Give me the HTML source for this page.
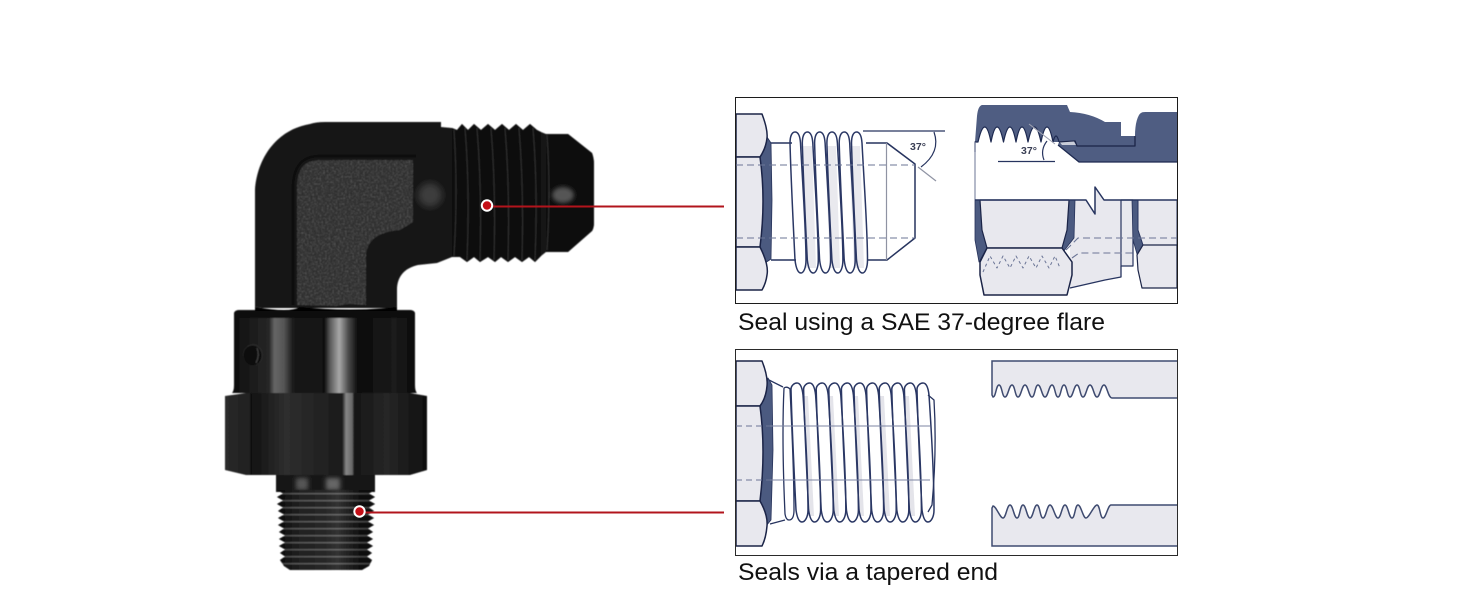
<!DOCTYPE html>
<html>
<head>
<meta charset="utf-8">
<style>
html,body{margin:0;padding:0;background:#fff;width:1464px;height:600px;overflow:hidden}
svg{display:block}
text{font-family:"Liberation Sans",sans-serif}
</style>
</head>
<body>
<svg width="1464" height="600" viewBox="0 0 1464 600" xmlns="http://www.w3.org/2000/svg">
<defs>
<filter id="soft" x="-5%" y="-5%" width="110%" height="110%"><feGaussianBlur stdDeviation="0.5"/></filter>
<filter id="b2" x="-50%" y="-50%" width="200%" height="200%"><feGaussianBlur stdDeviation="2"/></filter>
<filter id="b4" x="-50%" y="-50%" width="200%" height="200%"><feGaussianBlur stdDeviation="4"/></filter>
<filter id="b1" x="-20%" y="-20%" width="140%" height="140%"><feGaussianBlur stdDeviation="0.7"/></filter>
<filter id="grain" x="0" y="0" width="100%" height="100%" color-interpolation-filters="sRGB">
<feTurbulence type="fractalNoise" baseFrequency="0.55" numOctaves="2" seed="4"/>
<feColorMatrix values="0 0 0 0 0.42  0 0 0 0 0.42  0 0 0 0 0.42  1.5 0 0 0 -0.6"/>
<feComposite in2="SourceGraphic" operator="in" result="n"/>
<feMerge><feMergeNode in="SourceGraphic"/><feMergeNode in="n"/></feMerge>
</filter>
<linearGradient id="collar" x1="0" x2="1" y1="0" y2="0">
<stop offset="0" stop-color="#0c0c0c"/><stop offset=".12" stop-color="#1d1d1d"/>
<stop offset=".2" stop-color="#262626"/><stop offset=".23" stop-color="#666"/><stop offset=".28" stop-color="#555"/>
<stop offset=".33" stop-color="#1a1a1a"/><stop offset=".5" stop-color="#111"/>
<stop offset=".53" stop-color="#5a5a5a"/><stop offset=".58" stop-color="#a8a8a8"/><stop offset=".63" stop-color="#4a4a4a"/>
<stop offset=".68" stop-color="#0b0b0b"/><stop offset=".88" stop-color="#1b1b1b"/><stop offset="1" stop-color="#0a0a0a"/>
</linearGradient>
<linearGradient id="hexg" x1="0" x2="1" y1="0" y2="0">
<stop offset="0" stop-color="#2a2a2a"/><stop offset=".12" stop-color="#202020"/><stop offset=".13" stop-color="#111"/>
<stop offset=".3" stop-color="#2e2e2e"/><stop offset=".58" stop-color="#1b1b1b"/><stop offset=".6" stop-color="#888"/>
<stop offset=".63" stop-color="#666"/><stop offset=".64" stop-color="#161616"/><stop offset=".8" stop-color="#262626"/><stop offset="1" stop-color="#0f0f0f"/>
</linearGradient>
<linearGradient id="lowg" x1="0" x2="1" y1="0" y2="0">
<stop offset="0" stop-color="#0a0a0a"/><stop offset=".2" stop-color="#333"/><stop offset=".5" stop-color="#444"/>
<stop offset=".62" stop-color="#555"/><stop offset=".85" stop-color="#161616"/><stop offset="1" stop-color="#080808"/>
</linearGradient>
<pattern id="hlines" width="7" height="7" patternUnits="userSpaceOnUse" y="490">
<rect width="7" height="7" fill="#060606"/><rect y="3" width="7" height="1.4" fill="#fff" fill-opacity=".5"/>
</pattern>
<path id="t1" d="M790,143C790,136 792,132 795,132C798,132 800,136 800.5,143C803,190 806,230 806,260C806,268 803.5,273 801,273C798,273 796,268 795,260C793,220 791,180 790,143Z" fill="none" stroke="#2a3764" stroke-width="1.500"/>
<path id="t2" d="M791,389C791,386 794,383 797,383C800,383 802,386 803,395C806,440 808,480 808,510C808,517 805,522 802,522C799,522 797,517 796,510C794,470 792,430 791,389Z" fill="none" stroke="#2a3764" stroke-width="1.500"/>
</defs>

<!-- fitting -->
<g filter="url(#soft)">
<path d="M276,475H375V492H276Z" fill="#191919"/>
<rect x="296" y="478" width="12" height="12" fill="#555" filter="url(#b2)"/>
<rect x="326" y="478" width="14" height="12" fill="#666" filter="url(#b2)"/>
<path d="M277,490L283,493.5L277,497L283,500.5L277,504L283,507.5L278,511L284,514.5L278,518L284,521.5L278,525L284,528.5L279,532L285,535.5L279,539L285,542.5L279,546L285,549.5L280,553L285,556.5L280,560L284,566L290,570H362L369,566L372,560L367,556.5L372,553L367,549.5L373,546L367,542.5L373,539L367,535.5L373,532L368,528.5L374,525L368,521.5L374,518L368,514.5L374,511L369,507.5L375,504L369,500.5L375,497L369,493.5L375,490Z" fill="url(#hlines)"/>
<path d="M277,490L283,493.5L277,497L283,500.5L277,504L283,507.5L278,511L284,514.5L278,518L284,521.5L278,525L284,528.5L279,532L285,535.5L279,539L285,542.5L279,546L285,549.5L280,553L285,556.5L280,560L284,566L290,570H362L369,566L372,560L367,556.5L372,553L367,549.5L373,546L367,542.5L373,539L367,535.5L373,532L368,528.5L374,525L368,521.5L374,518L368,514.5L374,511L369,507.5L375,504L369,500.5L375,497L369,493.5L375,490Z" fill="url(#lowg)" opacity=".55"/>
<path d="M225,396L246,393H410L427,396V470L410,475H246L225,470Z" fill="url(#hexg)"/>
<path d="M234,314Q234,310 240,310H409Q415,310 415,314V385Q415,391 417,393H232Q234,391 234,385Z" fill="url(#collar)"/>
<path d="M234,314Q234,310 240,310H409Q415,310 415,314V318H234Z" fill="#0a0a0a"/>
<ellipse cx="253" cy="355" rx="10" ry="11" fill="#2a2a2a"/>
<ellipse cx="252.500" cy="355.500" rx="9" ry="10" fill="#0a0a0a"/>
<path d="M257,348Q260,355 256,363" stroke="#3a3a3a" stroke-width="1.500" fill="none"/>

<path d="M255,307V190C257,160 275,130 310,124Q316,122 325,122H441V127L452,128L457,130L462,124L468,130L474,124L481,130L488,124L495,130L502,124L509,130L516,124L523,130L530,124L537,130L541,132L546,134H568L592,153Q594,158 594,165V222Q594,228 592,231L568,252H546L541,256L535,262L529,257L522,262L515,257L508,262L501,257L495,262L488,257L480,262L474,257L467,262L460,257L452,257L437,263L418,265C405,268 397,276 397,290V307L393,308H262L255,307Z" fill="#161616"/>
<path d="M452,128L457,130L462,124L468,130L474,124L481,130L488,124L495,130L502,124L509,130L516,124L523,130L530,124L537,130L541,132V256L535,262L529,257L522,262L515,257L508,262L501,257L495,262L488,257L480,262L474,257L467,262L460,257L452,257Z" fill="#0b0b0b"/>
<path d="M546,134H568L592,153Q594,158 594,165V222Q594,228 592,231L568,252H546Z" fill="#0d0d0d"/>
<g stroke="#333" stroke-width="1" fill="none">
<path d="M454,130Q458,190 454,256"/><path d="M465,128Q470,190 467,260"/><path d="M477,128Q482,190 480,260"/><path d="M491,128Q496,190 494,260"/><path d="M505,128Q510,190 508,260"/><path d="M519,128Q524,190 522,260"/><path d="M533,128Q538,190 535,260"/>
<path d="M547,135Q551,190 547,250"/>
</g>
<path d="M297,305V185C298,168 305,160 320,160H413V222L400,230C380,232 368,238 366,255V305L350,304L335,306L296,305Z" fill="#2e2e2e" filter="url(#grain)"/>
<path d="M293,305V185C294,165 303,156 320,156H416" fill="none" stroke="#0c0c0c" stroke-width="2.500"/>
<ellipse cx="430" cy="195" rx="12" ry="12" fill="#3c3c3c" filter="url(#b4)"/>
<ellipse cx="563" cy="195" rx="11" ry="8" fill="#555" filter="url(#b2)"/>
<path d="M255,307Q290,313 300,307Q350,312 397,307V311H255Z" fill="#060606"/>
</g>

<!-- connectors -->
<line x1="487" y1="206.500" x2="724" y2="206.500" stroke="#b2141c" stroke-width="2"/>
<line x1="360" y1="512.500" x2="724" y2="512.500" stroke="#b2141c" stroke-width="2"/>
<circle cx="487" cy="205.500" r="5.200" fill="#c40f17" stroke="#fff" stroke-width="2"/>
<circle cx="359.500" cy="511.500" r="5.200" fill="#c40f17" stroke="#fff" stroke-width="2"/>

<!-- panel 1 left -->
<g stroke-linejoin="round">
<path d="M767,137L771,143L772,200L771,259L765,263L760,247Q766,200 760,157Z" fill="#4b5a80" stroke="#26325a" stroke-width=".8"/>
<path d="M736,114H762Q768,130 767,138Q766,148 760,157H736Z" fill="#e8e8ee" stroke="#1b2447" stroke-width="1.500"/>
<path d="M736,157H760Q766,200 760,247H736Z" fill="#e8e8ee" stroke="#1b2447" stroke-width="1.500"/>
<path d="M736,247H760Q769,265 767,275Q766,283 762,290H736Z" fill="#e8e8ee" stroke="#1b2447" stroke-width="1.500"/>
<path d="M771,143H792M771,260H796" fill="none" stroke="#27345f" stroke-width="1.500"/>
<path d="M866,143H887L915,164V238L887,260H868" fill="none" stroke="#27345f" stroke-width="1.500"/>
<line x1="886.500" y1="143" x2="886.500" y2="260" stroke="#8f93a3" stroke-width="1.200"/>
<path d="M800,146H812L816,268H806Z M825,146H836L840,268H830Z M849,146H860L864,268H854Z" fill="#e9e9ee"/>
<use href="#t1"/><use href="#t1" x="12.300"/><use href="#t1" x="24.600"/><use href="#t1" x="36.900"/><use href="#t1" x="49.200"/><use href="#t1" x="61.500"/>
<path d="M736,165H915M736,238H915" stroke="#6b7596" stroke-width="1.100" stroke-dasharray="7 4" fill="none"/>
<line x1="863" y1="131" x2="945" y2="131" stroke="#27345f" stroke-width="1.200"/>
<line x1="918" y1="167" x2="936" y2="181" stroke="#8f93a3" stroke-width="1.200"/>
<path d="M934,132Q941,152 921,167" fill="none" stroke="#27345f" stroke-width="1.200"/>
<text x="918" y="150" font-size="10.500" font-weight="bold" fill="#3a3f55" text-anchor="middle">37°</text>
</g>

<!-- panel 1 right -->
<g stroke-linejoin="round">
<path d="M975,142L977,116Q978,106 982,105H1067L1070,112Q1090,113 1105,122H1121V136H1135Q1135,122 1139,115Q1141,112 1145,112H1177V162H1079L1058,145L1059,142L1052.500,142L1053,142Q1047,112 1041,142Q1034.500,112 1028,142Q1022,112 1016,142Q1010,112 1003.500,142Q997,112 991,142Q985,112 978,142Z" fill="#4f5d82"/>
<path d="M975,152V142L978,142Q985,112 991,142Q997,112 1003.500,142Q1010,112 1016,142Q1022,112 1028,142Q1034.500,112 1041,142Q1047,112 1053,142Q1056,130 1059,142" fill="none" stroke="#1d2950" stroke-width="1.200"/>
<path d="M1059,142L1075,141L1077,146H1135V136" fill="none" stroke="#1b2447" stroke-width="1.300"/>
<path d="M1060,142.500L1074,141.500L1076,145H1062Z" fill="#c8ccd8"/>
<path d="M1058,145L1079,162H1177" fill="none" stroke="#1d2950" stroke-width="1.300"/>
<line x1="1029" y1="124" x2="1055" y2="144" stroke="#9ca0b0" stroke-width="1.100"/>
<line x1="998" y1="161.500" x2="1055" y2="161.500" stroke="#27345f" stroke-width="1.200"/>
<path d="M1047,141Q1040,150 1044,160" fill="none" stroke="#27345f" stroke-width="1.200"/>
<text x="1029" y="154" font-size="10.500" font-weight="bold" fill="#3a3f55" text-anchor="middle">37°</text>
<line x1="975" y1="142" x2="975" y2="200" stroke="#6b7596" stroke-width="1"/>

<path d="M1070,200H1086L1095,214V187L1104,200H1121V277L1105,280L1070,288Z" fill="#e8e8ee"/>
<path d="M1121,200H1133V266H1121Z" fill="#e8e8ee" stroke="#27345f" stroke-width="1.200"/>
<path d="M1121,266V277L1105,280L1070,288" fill="none" stroke="#27345f" stroke-width="1.300"/>
<path d="M975,200H980L982,230L987,248L979,262L975,240Z" fill="#4b5a80" stroke="#26325a" stroke-width=".8"/>
<path d="M1069,200H1075L1074,238L1063,252L1062,248L1067,230Z" fill="#4b5a80" stroke="#26325a" stroke-width=".8"/>
<path d="M980,200H1069L1067,230L1062,248H987L982,230Z" fill="#e8e8ee" stroke="#1b2447" stroke-width="1.200"/>
<path d="M987,248H1062L1072,262V275L1067,295H984L980,275V262Z" fill="#e8e8ee" stroke="#1b2447" stroke-width="1.500"/>
<path d="M1132,200H1138L1138,230L1143,245L1137,254L1133,240Z" fill="#4b5a80" stroke="#26325a" stroke-width=".8"/>
<path d="M1138,200H1177V245H1143L1138,230Z" fill="#e8e8ee" stroke="#27345f" stroke-width="1"/>
<path d="M1143,245H1177V288H1142L1138,270L1137,255Z" fill="#e8e8ee" stroke="#1b2447" stroke-width="1.200"/>
<path d="M975,200H1086L1095,214V187L1104,200H1177" fill="none" stroke="#27345f" stroke-width="1.500"/>
<path d="M1066,250L1078,238H1177M1072,258L1079,253H1133" fill="none" stroke="#6b7596" stroke-width="1.100" stroke-dasharray="7 4"/>
<path d="M983,272L990,256L997,268L1003,256L1010,268L1016,256L1023,268L1029,256L1036,268L1042,256L1049,268L1055,256L1060,268" fill="none" stroke="#6b7596" stroke-width="1" stroke-dasharray="3 3"/>
</g>

<!-- panel 2 left -->
<g stroke-linejoin="round">
<path d="M768,378L772,385L773,450L771,520L766,526L760,501Q766,450 760,406Z" fill="#4b5a80" stroke="#26325a" stroke-width=".8"/>
<path d="M736,361H762Q768,376 767,386Q766,398 760,406H736Z" fill="#e8e8ee" stroke="#1b2447" stroke-width="1.500"/>
<path d="M736,406H760Q766,450 760,501H736Z" fill="#e8e8ee" stroke="#1b2447" stroke-width="1.500"/>
<path d="M736,501H760Q768,515 767,526Q766,538 762,546H736Z" fill="#e8e8ee" stroke="#1b2447" stroke-width="1.500"/>
<path d="M769,380L783,387M770,524L785,520" fill="none" stroke="#27345f" stroke-width="1.300"/>
<path d="M784,388Q787,386 790,389C792,430 794,470 794,510Q794,520 789,520Q786,520 785,514C783,470 782,430 784,388Z" fill="none" stroke="#27345f" stroke-width="1.300"/>
<path d="M803,396H808L814,516H808Z M828,396H833L839,516H833Z M853,396H858L864,516H858Z M879,396H884L890,516H884Z M904,396H909L915,516H909Z" fill="#e4e4ea"/>
<use href="#t2"/><use href="#t2" x="12.600"/><use href="#t2" x="25.200"/><use href="#t2" x="37.800"/><use href="#t2" x="50.400"/><use href="#t2" x="63"/><use href="#t2" x="75.600"/><use href="#t2" x="88.200"/><use href="#t2" x="100.800"/><use href="#t2" x="113.400"/><use href="#t2" x="126"/>
<path d="M928,395L934,400Q937,450 932,505L928,512" fill="none" stroke="#27345f" stroke-width="1.300"/>
<path d="M736,426H770M736,480H770" stroke="#6b7596" stroke-width="1.100" stroke-dasharray="6 4" fill="none"/>
<path d="M770,426H930M770,480H930" stroke="#7c85a3" stroke-width="1" fill="none"/>
</g>

<!-- panel 2 right -->
<path d="M992,361H1177V398H1112C1108,398 1107,385 1104,385S1100,397 1097,397S1093,385 1090,385S1086,397 1083,397S1080,385 1077,385S1073,397 1070,397S1067,385 1064,385S1061,397 1058,397S1055,385 1052,385S1048,397 1045,397S1041,385 1038,385S1035,397 1032,397S1028,385 1025,385S1021,397 1018,397S1015,385 1012,385S1008,397 1005,397S1002,385 999,385S996,397 993,397L992,395Z" fill="#e8e8ee"/>
<path d="M1177,361H992V395L993,397C996,397 996,385 999,385S1002,397 1005,397S1009,385 1012,385S1015,397 1018,397S1022,385 1025,385S1029,397 1032,397S1035,385 1038,385S1042,397 1045,397S1049,385 1052,385S1055,397 1058,397S1061,385 1064,385S1067,397 1070,397S1074,385 1077,385S1080,397 1083,397S1087,385 1090,385S1094,397 1097,397S1101,385 1104,385C1107,385 1108,398 1112,398H1177" fill="none" stroke="#3f4b70" stroke-width="1.500"/>
<path d="M992,546H1177V505H1111C1108,505 1106,518 1103,518S1100,505 1097,505S1089,518 1086,518S1081,505 1078,505S1075,518 1072,518S1068,505 1065,505S1061,518 1058,518S1053,505 1050,505S1046,518 1043,518S1040,505 1037,505S1033,518 1030,518S1026,505 1023,505S1020,518 1017,518S1013,505 1010,505S1006,518 1003,518S996,506 993,506L992,508Z" fill="#e8e8ee"/>
<path d="M1177,505H1111C1108,505 1106,518 1103,518S1100,505 1097,505S1089,518 1086,518S1081,505 1078,505S1075,518 1072,518S1068,505 1065,505S1061,518 1058,518S1053,505 1050,505S1046,518 1043,518S1040,505 1037,505S1033,518 1030,518S1026,505 1023,505S1020,518 1017,518S1013,505 1010,505S1006,518 1003,518S996,506 993,506L992,508V546H1177" fill="none" stroke="#3f4b70" stroke-width="1.500"/>

<!-- frames -->
<rect x="735.500" y="97.500" width="442" height="206" fill="none" stroke="#1c1c1c" stroke-width="1"/>
<rect x="735.500" y="349.500" width="442" height="206" fill="none" stroke="#2a2a2a" stroke-width="1"/>

<!-- captions -->
<text x="738" y="330" font-size="24" fill="#111" textLength="367" lengthAdjust="spacingAndGlyphs">Seal using a SAE 37-degree flare</text>
<text x="738" y="580" font-size="24" fill="#111" textLength="260" lengthAdjust="spacingAndGlyphs">Seals via a tapered end</text>
</svg>
</body>
</html>
